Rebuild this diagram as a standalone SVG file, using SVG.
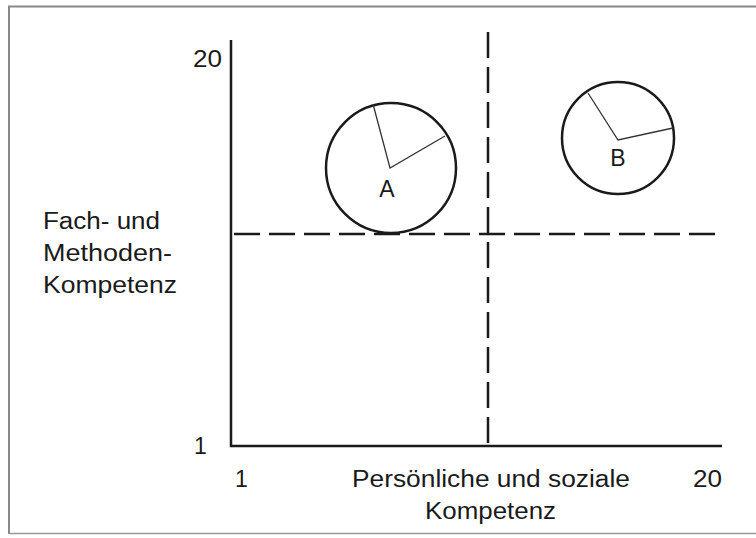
<svg xmlns="http://www.w3.org/2000/svg" width="756" height="538" viewBox="0 0 756 538">
<style>
.t{font-family:"Liberation Sans",Arial,sans-serif;font-size:23px;fill:#1a1a1a}
.ax{stroke:#1a1a1a;stroke-width:2.5;fill:none}
.dash{stroke:#1a1a1a;stroke-width:2.5;stroke-dasharray:26 9;fill:none}
.c{stroke:#1a1a1a;stroke-width:2.5;fill:none}
.r{stroke:#333;stroke-width:1.3;fill:none}
</style>
<rect x="0" y="0" width="756" height="538" fill="#fff"/>
<path d="M9,534 V6.5 H756" stroke="#888" stroke-width="2" fill="none"/>
<path d="M9,533.5 H756" stroke="#999" stroke-width="1.5" fill="none"/>
<g id="connectors">
<path class="ax" d="M231,40 V446 H722"/>
<path class="dash" d="M488,32 V446"/>
<path class="dash" d="M234,234 H720"/>
</g>
<g id="nodeA">
<circle class="c" cx="391" cy="168" r="65"/>
<path class="r" d="M373,104 L390,168 L445,136"/>
<text class="t" x="387" y="197" text-anchor="middle">A</text>
</g>
<g id="nodeB">
<circle class="c" cx="618" cy="138" r="56"/>
<path class="r" d="M588,93 L618,140 L673,128"/>
<text class="t" x="618" y="166" text-anchor="middle">B</text>
</g>
<g id="labels">
<text class="t" x="193" y="67" textLength="29" lengthAdjust="spacingAndGlyphs">20</text>
<text class="t" x="194" y="454">1</text>
<text class="t" x="235" y="487">1</text>
<text class="t" x="352" y="487" textLength="278" lengthAdjust="spacingAndGlyphs">Persönliche und soziale</text>
<text class="t" x="425" y="519" textLength="131" lengthAdjust="spacingAndGlyphs">Kompetenz</text>
<text class="t" x="693" y="487" textLength="29" lengthAdjust="spacingAndGlyphs">20</text>
<text class="t" x="43" y="229" textLength="117" lengthAdjust="spacingAndGlyphs">Fach- und</text>
<text class="t" x="43" y="261" textLength="129" lengthAdjust="spacingAndGlyphs">Methoden-</text>
<text class="t" x="43" y="293" textLength="134" lengthAdjust="spacingAndGlyphs">Kompetenz</text>
</g>
</svg>
